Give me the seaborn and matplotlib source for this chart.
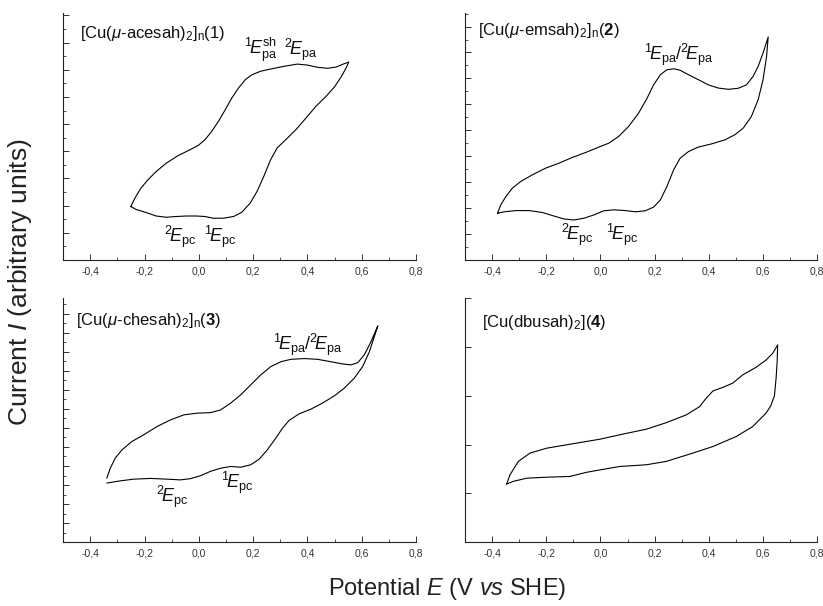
import numpy as np
import pandas as pd
import matplotlib
matplotlib.use("Agg")
import matplotlib.pyplot as plt
from matplotlib.ticker import MultipleLocator, FuncFormatter
import seaborn as sns

# cyclic voltammograms, E in V vs SHE, I in arbitrary units (0-10 per panel)
# complex 1
e1 = [-0.25, -0.244, -0.232, -0.213, -0.188, -0.157, -0.12, -0.077, -0.033, -0.002,
      0.022, 0.047, 0.072, 0.097, 0.121, 0.146, 0.171, 0.196, 0.227, 0.264, 0.313,
      0.363, 0.40, 0.437, 0.474, 0.505, 0.536, 0.552,
      0.542, 0.524, 0.499, 0.468, 0.431, 0.394, 0.357, 0.319, 0.288, 0.264, 0.239,
      0.214, 0.189, 0.158, 0.128, 0.09, 0.053, 0.022, -0.009, -0.046, -0.083, -0.12,
      -0.157, -0.194, -0.232, -0.25]
i1 = [2.16, 2.32, 2.57, 2.91, 3.24, 3.58, 3.92, 4.22, 4.46, 4.64,
      4.86, 5.20, 5.61, 6.08, 6.55, 6.96, 7.30, 7.50, 7.64, 7.73, 7.84,
      7.93, 7.89, 7.80, 7.76, 7.81, 7.95, 8.01,
      7.77, 7.41, 7.0, 6.62, 6.22, 5.74, 5.27, 4.86, 4.53, 4.05, 3.38,
      2.77, 2.30, 1.93, 1.76, 1.69, 1.69, 1.76, 1.78, 1.78, 1.76, 1.73,
      1.78, 1.92, 2.05, 2.16]

# complex 2
e2 = [-0.38, -0.368, -0.349, -0.325, -0.294, -0.251, -0.202, -0.153, -0.104, -0.055,
      -0.006, 0.031, 0.067, 0.104, 0.141, 0.172, 0.196, 0.221, 0.245, 0.27, 0.294,
      0.325, 0.361, 0.398, 0.435, 0.472, 0.508, 0.539, 0.563, 0.582, 0.600, 0.619,
      0.613, 0.600, 0.582, 0.557, 0.527, 0.496, 0.459, 0.41, 0.361, 0.325, 0.294,
      0.27, 0.245, 0.221, 0.196, 0.165, 0.129, 0.092, 0.049, 0.012, -0.025, -0.061,
      -0.098, -0.135, -0.172, -0.214, -0.263, -0.312, -0.355, -0.38]
i2 = [1.89, 2.23, 2.57, 2.91, 3.18, 3.45, 3.72, 3.92, 4.15, 4.35,
      4.57, 4.73, 5.0, 5.41, 5.95, 6.55, 7.09, 7.50, 7.70, 7.74, 7.68,
      7.50, 7.30, 7.09, 6.96, 6.91, 6.95, 7.09, 7.43, 7.84, 8.38, 9.03,
      8.24, 7.30, 6.49, 5.81, 5.34, 5.07, 4.86, 4.70, 4.57, 4.39, 4.12,
      3.65, 2.97, 2.43, 2.14, 1.99, 1.95, 2.0, 2.03, 1.99, 1.82, 1.69,
      1.62, 1.66, 1.78, 1.92, 2.0, 2.0, 1.95, 1.89]

# complex 3
e3 = [-0.339, -0.326, -0.308, -0.283, -0.246, -0.203, -0.154, -0.105, -0.055, -0.006,
      0.043, 0.08, 0.117, 0.154, 0.191, 0.228, 0.265, 0.302, 0.339, 0.388, 0.437,
      0.486, 0.529, 0.56, 0.585, 0.609, 0.632, 0.659,
      0.646, 0.628, 0.603, 0.572, 0.535, 0.499, 0.455, 0.412, 0.369, 0.332, 0.308,
      0.283, 0.252, 0.222, 0.191, 0.154, 0.117, 0.08, 0.043, 0.006, -0.031, -0.068,
      -0.117, -0.178, -0.24, -0.289, -0.339]
i3 = [2.62, 3.03, 3.44, 3.78, 4.13, 4.40, 4.74, 5.01, 5.22, 5.29,
      5.31, 5.42, 5.70, 6.04, 6.45, 6.86, 7.20, 7.40, 7.50, 7.53, 7.50,
      7.40, 7.31, 7.27, 7.36, 7.68, 8.18, 8.87,
      8.43, 7.81, 7.20, 6.72, 6.31, 6.0, 5.70, 5.45, 5.26, 4.99, 4.67,
      4.26, 3.78, 3.40, 3.17, 3.07, 3.10, 3.03, 2.90, 2.72, 2.60, 2.55,
      2.58, 2.61, 2.58, 2.51, 2.42]

# complex 4
e4 = [-0.346, -0.334, -0.303, -0.26, -0.199, -0.088, -0.002, 0.083, 0.169, 0.243,
      0.317, 0.366, 0.39, 0.415, 0.452, 0.488, 0.525, 0.574, 0.611, 0.636, 0.654,
      0.652, 0.648, 0.642, 0.628, 0.611, 0.562, 0.501, 0.415, 0.341, 0.243, 0.169,
      0.071, -0.002, -0.052, -0.113, -0.199, -0.272, -0.322, -0.346]
i4 = [2.38, 2.76, 3.31, 3.65, 3.85, 4.06, 4.22, 4.43, 4.63, 4.90,
      5.22, 5.56, 5.90, 6.20, 6.35, 6.52, 6.86, 7.17, 7.47, 7.75, 8.09,
      7.40, 6.70, 6.00, 5.58, 5.29, 4.74, 4.33, 3.92, 3.65, 3.31, 3.17,
      3.10, 2.96, 2.86, 2.69, 2.66, 2.62, 2.49, 2.38]

titles = [r"[Cu($\mu$-acesah)$_2$]$_\mathrm{n}$(1)",
          r"[Cu($\mu$-emsah)$_2$]$_\mathrm{n}$($\mathbf{2}$)",
          r"[Cu($\mu$-chesah)$_2$]$_\mathrm{n}$($\mathbf{3}$)",
          r"[Cu(dbusah)$_2$]($\mathbf{4}$)"]

# peak labels: (text, E, I)
labels1 = [(r"$^{1}\!E_{\mathrm{pa}}^{\mathrm{sh}}$", 0.228, 8.5),
           (r"$^{2}\!E_{\mathrm{pa}}$", 0.375, 8.5),
           (r"$^{2}\!E_{\mathrm{pc}}$", -0.07, 0.95),
           (r"$^{1}\!E_{\mathrm{pc}}$", 0.08, 0.95)]
labels2 = [(r"$^{1}\!E_{\mathrm{pa}}$/$^{2}\!E_{\mathrm{pa}}$", 0.29, 8.3),
           (r"$^{2}\!E_{\mathrm{pc}}$", -0.085, 1.0),
           (r"$^{1}\!E_{\mathrm{pc}}$", 0.08, 1.0)]
labels3 = [(r"$^{1}\!E_{\mathrm{pa}}$/$^{2}\!E_{\mathrm{pa}}$", 0.4, 8.1),
           (r"$^{2}\!E_{\mathrm{pc}}$", -0.1, 1.87),
           (r"$^{1}\!E_{\mathrm{pc}}$", 0.14, 2.42)]
labels4 = []

sns.set_style("ticks")
plt.rcParams["font.family"] = ["Liberation Sans", "DejaVu Sans"]
plt.rcParams["mathtext.fontset"] = "custom"
plt.rcParams["mathtext.rm"] = "Liberation Sans"
plt.rcParams["mathtext.it"] = "Liberation Sans:italic"
plt.rcParams["mathtext.bf"] = "Liberation Sans:bold"

fig = plt.figure(figsize=(8.23, 6.06), dpi=100)

positions = [[0.0766, 0.571, 0.429, 0.4076],
             [0.565, 0.571, 0.428, 0.4076],
             [0.0766, 0.1056, 0.429, 0.402],
             [0.565, 0.1056, 0.428, 0.402]]
title_pos = [(0.048, 0.915), (0.037, 0.93), (0.037, 0.91), (0.048, 0.90)]
ytick_step = [1.1, 1.05, 0.78, 2.0]
curves = [(e1, i1), (e2, i2), (e3, i3), (e4, i4)]
all_labels = [labels1, labels2, labels3, labels4]

fmt = FuncFormatter(lambda v, p: ("%.1f" % (0.0 if abs(v) < 1e-9 else v)).replace(".", ","))

for k in range(4):
    ax = fig.add_axes(positions[k])
    e, i = curves[k]
    df = pd.DataFrame({"E": e, "I": i, "n": np.arange(len(e))})
    sns.lineplot(data=df, x="E", y="I", sort=False, estimator=None,
                 color="black", lw=0.8, ax=ax)
    ax.set_xlim(-0.5, 0.8)
    ax.set_ylim(0, 10)
    ax.set_xlabel("")
    ax.set_ylabel("")
    sns.despine(ax=ax)
    for s in ["left", "bottom"]:
        ax.spines[s].set_linewidth(0.8)
        ax.spines[s].set_color("#222222")
    ax.xaxis.set_major_locator(MultipleLocator(0.2))
    ax.xaxis.set_minor_locator(MultipleLocator(0.1))
    ax.xaxis.set_major_formatter(fmt)
    ax.yaxis.set_major_locator(MultipleLocator(ytick_step[k]))
    if k < 3:
        ax.yaxis.set_minor_locator(MultipleLocator(ytick_step[k] / 2))
    ax.set_yticklabels([])
    ax.tick_params(which="major", direction="in", length=4, width=0.7,
                   labelsize=7.5, colors="#333333", pad=5)
    ax.tick_params(which="minor", direction="in", length=2, width=0.6, colors="#333333")
    ax.tick_params(axis="y", labelleft=False)
    ax.text(title_pos[k][0], title_pos[k][1], titles[k], transform=ax.transAxes,
            fontsize=12, ha="left", va="center", color="#111111")
    for txt, x, y in all_labels[k]:
        ax.text(x, y, txt, fontsize=13, ha="center", va="center", color="#111111")

fig.text(0.024, 0.535, r"Current $I$ (arbitrary units)", rotation=90,
         fontsize=19, ha="center", va="center", color="#222222")
fig.text(0.543, 0.028, r"Potential $E$ (V $vs$ SHE)", fontsize=17,
         ha="center", va="center", color="#222222")

fig.savefig("out.png", dpi=100)
